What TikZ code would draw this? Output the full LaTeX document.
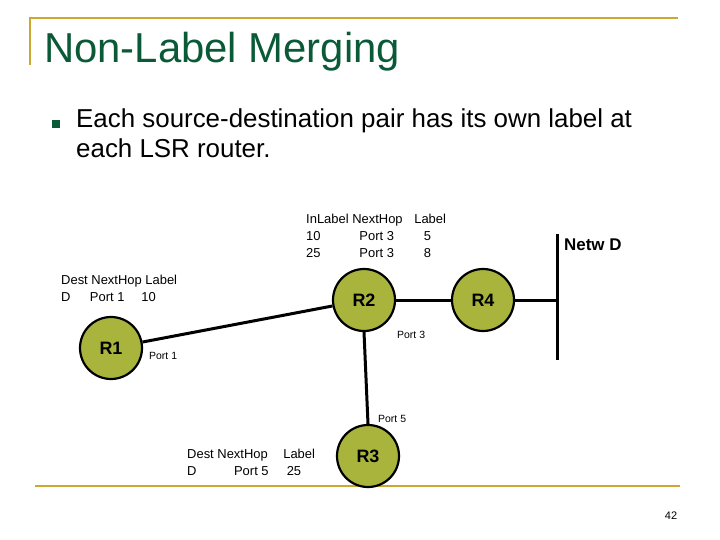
\documentclass[tikz,border=0pt]{standalone}
\usepackage{fontspec}
\setmainfont{Liberation Sans}
\begin{document}
\begin{tikzpicture}[x=1bp,y=-1bp,
  rt/.style={circle,draw=black,line width=2.2bp,fill=olive,minimum size=62bp,inner sep=0pt,font=\fontsize{18}{20}\selectfont\bfseries},
  lnk/.style={line width=3bp},
  tbl/.style={font=\fontsize{13}{17}\selectfont,anchor=north west,inner sep=0pt,align=left},
  prt/.style={font=\fontsize{10.5}{12}\selectfont,inner sep=0pt,anchor=west}]
\definecolor{olive}{RGB}{168,180,60}
\definecolor{gold}{RGB}{204,168,48}
\definecolor{ttl}{RGB}{10,90,55}
\useasboundingbox (0,0) rectangle (720,540);
\draw[gold,line width=2bp] (30,65) -- (30,18) -- (678,18);
\draw[gold,line width=2.5bp] (35,486) -- (680,486);
\node[anchor=west,text=ttl,font=\fontsize{42}{46}\selectfont,inner sep=0pt] (title) at (44,52) {Non-Label Merging};
\node[fill=ttl,minimum size=8bp,inner sep=0pt] (bul) at (56,124) {};
\node[anchor=north west,font=\fontsize{26}{30}\selectfont,align=left,inner sep=0pt] (body) at (76,109) {Each source-destination pair has its own label at\\each LSR router.};
\node[rt] (R1) at (111,348) {R1};
\node[rt] (R2) at (364,300) {R2};
\node[rt] (R4) at (483,300) {R4};
\node[rt] (R3) at (368,456) {R3};
\coordinate (bt) at (557,234);
\coordinate (bb) at (557,360);
\coordinate (bm) at (557,300);
\draw[lnk] (bt) -- (bb);
\draw[lnk] (R1) -- (R2);
\draw[lnk] (R2) -- (R4);
\draw[lnk] (R4) -- (bm);
\draw[lnk] (R2.south) -- (R3.north);
\node[tbl] (t2) at (306,214) {InLabel NextHop\hspace{0.9em}Label\\10\hspace{3.0em}Port 3\hspace{2.3em}5\\25\hspace{3.0em}Port 3\hspace{2.3em}8};
\node[tbl] (t1) at (61,275) {Dest NextHop Label\\D\hspace{1.5em}Port 1\hspace{1.3em}10};
\node[tbl] (t3) at (187,449) {Dest NextHop\hspace{1.2em}Label\\D\hspace{2.9em}Port 5\hspace{1.4em}25};
\node[anchor=west,font=\fontsize{17}{19}\selectfont\bfseries,inner sep=0pt] (nd) at (564,245) {Netw D};
\node[prt] (p1) at (149,356) {Port 1};
\node[prt] (p3) at (397,335) {Port 3};
\node[prt] (p5) at (378,419) {Port 5};
\node[font=\fontsize{11}{13}\selectfont,inner sep=0pt] (pg) at (671,516) {42};
\end{tikzpicture}
\end{document}
